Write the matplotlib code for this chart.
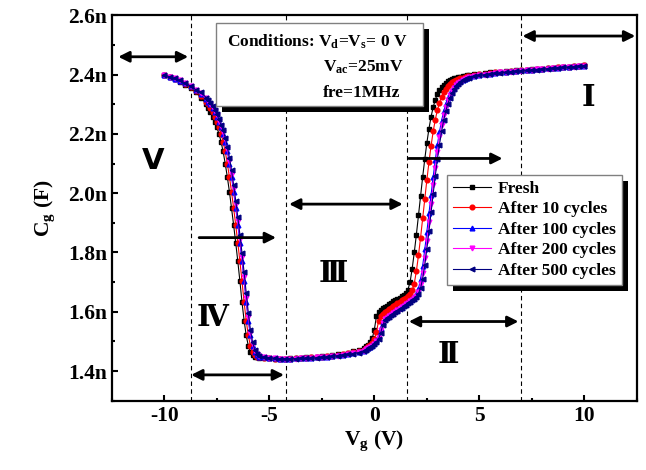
import numpy as np
import matplotlib
matplotlib.use("Agg")
import matplotlib.pyplot as plt
from matplotlib.patches import Rectangle
from matplotlib.ticker import MultipleLocator, FuncFormatter

plt.rcParams['font.family'] = 'Liberation Serif'
plt.rcParams['font.weight'] = 'bold'
plt.rcParams['mathtext.fontset'] = 'custom'
plt.rcParams['mathtext.rm'] = 'Liberation Serif:bold'
plt.rcParams['mathtext.it'] = 'Liberation Serif:bold'
plt.rcParams['mathtext.bf'] = 'Liberation Serif:bold'
plt.rcParams['axes.unicode_minus'] = False

# gate voltage sweep (V): coarse on the flat parts, fine on the steep parts
vg = np.round(np.concatenate([
    np.arange(-10.0, -7.99, 0.25),
    np.arange(-7.9, -5.45, 0.1),
    np.arange(-5.25, -0.49, 0.25),
    np.arange(-0.4, 4.55, 0.1),
    np.arange(4.75, 10.01, 0.25),
]), 2)

# gate capacitance (nF)
fresh = [
    2.397, 2.391, 2.384, 2.376, 2.366, 2.354, 2.340, 2.322, 2.300,
    2.288, 2.274, 2.258, 2.240, 2.222, 2.201, 2.174, 2.141, 2.100, 2.055,
    2.005, 1.950, 1.893, 1.833, 1.770, 1.703, 1.632, 1.570, 1.520, 1.485,
    1.464, 1.454, 1.449, 1.447, 1.445,
    1.444, 1.443, 1.442, 1.442, 1.442, 1.443, 1.444, 1.445, 1.446, 1.447,
    1.449, 1.450, 1.452, 1.454, 1.456, 1.459, 1.462, 1.466, 1.471, 1.478,
    1.483, 1.489, 1.497, 1.510, 1.540, 1.585, 1.600, 1.606, 1.611, 1.616,
    1.620, 1.625, 1.630, 1.635, 1.640, 1.644, 1.648, 1.652, 1.657, 1.664,
    1.675, 1.700, 1.745, 1.800, 1.860, 1.925, 1.990, 2.055, 2.115, 2.170,
    2.218, 2.258, 2.290, 2.315, 2.334, 2.348, 2.358, 2.366, 2.372, 2.377,
    2.381, 2.384, 2.387, 2.389, 2.391, 2.393, 2.395, 2.396, 2.397, 2.398,
    2.401, 2.403, 2.405, 2.407, 2.408, 2.410, 2.411, 2.413, 2.414, 2.415,
    2.417, 2.418, 2.419, 2.420, 2.422, 2.423, 2.424, 2.426, 2.427, 2.428,
    2.430, 2.431,
]
c10 = [
    2.397, 2.392, 2.385, 2.377, 2.368, 2.357, 2.344, 2.327, 2.309,
    2.300, 2.288, 2.274, 2.258, 2.240, 2.222, 2.201, 2.174, 2.141, 2.100,
    2.055, 2.005, 1.950, 1.893, 1.833, 1.770, 1.703, 1.632, 1.570, 1.520,
    1.485, 1.464, 1.454, 1.449, 1.447,
    1.445, 1.443, 1.442, 1.442, 1.442, 1.442, 1.443, 1.444, 1.445, 1.446,
    1.447, 1.449, 1.450, 1.452, 1.454, 1.457, 1.460, 1.463, 1.467, 1.472,
    1.478, 1.483, 1.489, 1.496, 1.507, 1.530, 1.570, 1.585, 1.592, 1.598,
    1.603, 1.608, 1.613, 1.618, 1.623, 1.628, 1.633, 1.638, 1.643, 1.648,
    1.653, 1.660, 1.672, 1.695, 1.737, 1.790, 1.850, 1.915, 1.980, 2.045,
    2.105, 2.160, 2.208, 2.248, 2.280, 2.305, 2.325, 2.340, 2.352, 2.361,
    2.368, 2.374, 2.378, 2.382, 2.385, 2.388, 2.390, 2.392, 2.394, 2.395,
    2.398, 2.401, 2.403, 2.405, 2.407, 2.409, 2.410, 2.412, 2.413, 2.415,
    2.416, 2.417, 2.419, 2.420, 2.421, 2.423, 2.424, 2.425, 2.427, 2.428,
    2.429, 2.431,
]
c100 = [
    2.398, 2.393, 2.386, 2.379, 2.370, 2.360, 2.347, 2.336, 2.318,
    2.309, 2.300, 2.288, 2.274, 2.258, 2.240, 2.222, 2.201, 2.174, 2.141,
    2.100, 2.055, 2.005, 1.950, 1.893, 1.833, 1.770, 1.703, 1.632, 1.570,
    1.520, 1.485, 1.464, 1.454, 1.449,
    1.446, 1.444, 1.443, 1.442, 1.442, 1.442, 1.443, 1.443, 1.444, 1.445,
    1.446, 1.448, 1.449, 1.451, 1.453, 1.455, 1.458, 1.461, 1.464, 1.469,
    1.474, 1.478, 1.482, 1.487, 1.494, 1.503, 1.518, 1.545, 1.567, 1.577,
    1.583, 1.588, 1.593, 1.598, 1.603, 1.608, 1.613, 1.618, 1.623, 1.628,
    1.633, 1.638, 1.643, 1.650, 1.660, 1.678, 1.710, 1.755, 1.810, 1.870,
    1.932, 1.995, 2.055, 2.112, 2.163, 2.207, 2.245, 2.276, 2.301, 2.321,
    2.337, 2.349, 2.359, 2.367, 2.373, 2.378, 2.382, 2.386, 2.389, 2.392,
    2.396, 2.399, 2.401, 2.403, 2.405, 2.407, 2.409, 2.411, 2.412, 2.414,
    2.415, 2.417, 2.418, 2.419, 2.421, 2.422, 2.423, 2.425, 2.426, 2.428,
    2.429, 2.430,
]
c200 = [
    2.398, 2.393, 2.387, 2.380, 2.371, 2.361, 2.348, 2.338, 2.320,
    2.311, 2.302, 2.291, 2.278, 2.262, 2.245, 2.227, 2.207, 2.181, 2.149,
    2.110, 2.065, 2.016, 1.962, 1.905, 1.846, 1.783, 1.717, 1.647, 1.582,
    1.529, 1.491, 1.468, 1.456, 1.450,
    1.446, 1.444, 1.443, 1.442, 1.442, 1.442, 1.442, 1.443, 1.444, 1.445,
    1.446, 1.447, 1.449, 1.450, 1.452, 1.454, 1.457, 1.460, 1.463, 1.468,
    1.473, 1.477, 1.481, 1.486, 1.492, 1.500, 1.513, 1.537, 1.562, 1.574,
    1.580, 1.585, 1.590, 1.595, 1.600, 1.605, 1.610, 1.615, 1.620, 1.625,
    1.630, 1.635, 1.640, 1.646, 1.654, 1.668, 1.693, 1.732, 1.782, 1.840,
    1.902, 1.965, 2.027, 2.086, 2.140, 2.188, 2.229, 2.263, 2.291, 2.313,
    2.330, 2.344, 2.355, 2.364, 2.371, 2.376, 2.381, 2.385, 2.388, 2.391,
    2.395, 2.398, 2.400, 2.403, 2.405, 2.407, 2.408, 2.410, 2.412, 2.413,
    2.415, 2.416, 2.418, 2.419, 2.420, 2.422, 2.423, 2.425, 2.426, 2.427,
    2.429, 2.430,
]
c500 = [
    2.398, 2.393, 2.387, 2.380, 2.371, 2.361, 2.349, 2.340, 2.322,
    2.313, 2.304, 2.294, 2.281, 2.266, 2.249, 2.231, 2.212, 2.187, 2.156,
    2.120, 2.077, 2.028, 1.975, 1.919, 1.860, 1.798, 1.733, 1.664, 1.596,
    1.539, 1.498, 1.472, 1.458, 1.451,
    1.447, 1.445, 1.443, 1.442, 1.442, 1.442, 1.442, 1.443, 1.443, 1.444,
    1.445, 1.447, 1.448, 1.450, 1.452, 1.454, 1.456, 1.459, 1.462, 1.467,
    1.472, 1.476, 1.480, 1.484, 1.490, 1.497, 1.508, 1.528, 1.555, 1.571,
    1.578, 1.583, 1.588, 1.593, 1.598, 1.603, 1.608, 1.613, 1.618, 1.623,
    1.628, 1.633, 1.638, 1.643, 1.650, 1.661, 1.680, 1.712, 1.757, 1.812,
    1.872, 1.935, 1.998, 2.058, 2.114, 2.164, 2.208, 2.246, 2.277, 2.302,
    2.322, 2.338, 2.351, 2.361, 2.369, 2.375, 2.380, 2.384, 2.387, 2.390,
    2.394, 2.397, 2.400, 2.402, 2.404, 2.406, 2.408, 2.410, 2.411, 2.413,
    2.414, 2.416, 2.417, 2.419, 2.420, 2.422, 2.423, 2.424, 2.426, 2.427,
    2.429, 2.430,
]

series = [fresh, c10, c100, c200, c500]
labels = ['Fresh', 'After 10 cycles', 'After 100 cycles',
          'After 200 cycles', 'After 500 cycles']
colors = ['black', '#ff0000', '#0000ff', '#ff00ff', '#000080']
markers = ['s', 'o', '^', 'v', '<']

# region borders (V) and region labels
borders = [-8.72, -4.2, 1.54, 6.96]
regions = ['V', 'Ⅳ', 'Ⅲ', 'Ⅱ', 'Ⅰ']
region_x = [-10.52, -7.69, -1.97, 3.5, 10.19]
region_y = [2.107, 1.58, 1.73, 1.457, 2.323]

fig = plt.figure(figsize=(6.46, 4.70), dpi=100)
ax = fig.add_axes([0.173, 0.1475, 0.813, 0.820])

for c, lab, col, m in zip(series, labels, colors, markers):
    ax.plot(vg, np.array(c) * 1e-9, color=col, marker=m, markersize=3.4,
            lw=0.8, label=lab)

for b in borders:
    ax.axvline(b, color='black', lw=0.8, ls=(0, (4, 3)), zorder=1)

# double arrows marking each region, and two sweep-direction arrows
dbl = [(-12.19, -8.86, 2.46), (7.05, 12.42, 2.53), (-4.06, 1.35, 1.963),
       (-8.72, -4.30, 1.387), (1.64, 6.86, 1.567)]
for x0, x1, y in dbl:
    ax.annotate('', xy=(x1, y * 1e-9), xytext=(x0, y * 1e-9),
                arrowprops=dict(arrowstyle='<|-|>', color='black', lw=2,
                                mutation_scale=16, shrinkA=0, shrinkB=0))
for x0, x1, y in [(-8.34, -4.68, 1.85), (1.64, 6.1, 2.117)]:
    ax.annotate('', xy=(x1, y * 1e-9), xytext=(x0, y * 1e-9),
                arrowprops=dict(arrowstyle='-|>', color='black', lw=2,
                                mutation_scale=16, shrinkA=0, shrinkB=0))

for r, x, y in zip(regions, region_x, region_y):
    fam = ['DejaVu Sans'] if r == 'V' else ['DejaVu Serif', 'DejaVu Sans']
    ax.text(x, y * 1e-9, r, fontsize=21, fontweight='bold', family=fam,
            ha='center', va='center')

ax.set_xlim(-12.5, 12.5)
ax.set_ylim(1.3e-9, 2.6e-9)
ax.xaxis.set_major_locator(MultipleLocator(5))
ax.xaxis.set_minor_locator(MultipleLocator(2.5))
ax.yaxis.set_major_locator(MultipleLocator(0.2e-9))
ax.yaxis.set_minor_locator(MultipleLocator(0.1e-9))
ax.yaxis.set_major_formatter(FuncFormatter(lambda v, p: f'{v * 1e9:.1f}n'))
ax.tick_params(which='both', direction='in', width=1.5, labelsize=15.5)
ax.tick_params(which='major', length=4.5)
ax.tick_params(which='minor', length=2.5)
for s in ax.spines.values():
    s.set_linewidth(1.6)

ax.set_xlabel(r'V$_\mathrm{g}$ (V)', fontsize=15.5, fontweight='bold', labelpad=2)
ax.set_ylabel(r'C$_\mathrm{g}$ (F)', fontsize=15.5, fontweight='bold', labelpad=8)

# conditions box with black drop shadow
ax.add_patch(Rectangle((0.2100, 0.749), 0.394, 0.216, transform=ax.transAxes,
                       facecolor='black', edgecolor='none', zorder=6))
ax.add_patch(Rectangle((0.1986, 0.764), 0.394, 0.216, transform=ax.transAxes,
                       facecolor='white', edgecolor='#808080', lw=1, zorder=7))
ax.text(0.2195, 0.918, r'Conditions: V$_\mathrm{d}$=V$_\mathrm{s}$= 0 V',
        transform=ax.transAxes, fontsize=12.5, va='baseline', zorder=8)
ax.text(0.4022, 0.854, r'V$_\mathrm{ac}$=25mV', transform=ax.transAxes,
        fontsize=12.5, va='baseline', zorder=8)
ax.text(0.4022, 0.787, 'fre=1MHz', transform=ax.transAxes,
        fontsize=12.5, va='baseline', zorder=8)

leg = ax.legend(loc='upper left', bbox_to_anchor=(0.638, 0.5863),
                borderaxespad=0, fontsize=12.5, fancybox=False,
                edgecolor='#808080', framealpha=1, handlelength=2.2,
                handletextpad=0.4, labelspacing=0.25, borderpad=0.35,
                numpoints=1)
leg.get_frame().set_linewidth(1)
leg.set_zorder(10)

# black shadow behind the legend
fig.canvas.draw()
bb = leg.get_frame().get_window_extent().transformed(ax.transAxes.inverted())
dx, dy = 6 / 525.3, 6 / 388.4
ax.add_patch(Rectangle((bb.x0 + dx, bb.y0 - dy), bb.width, bb.height,
                       transform=ax.transAxes, facecolor='black',
                       edgecolor='none', zorder=9))

fig.savefig('out.png', dpi=100)
